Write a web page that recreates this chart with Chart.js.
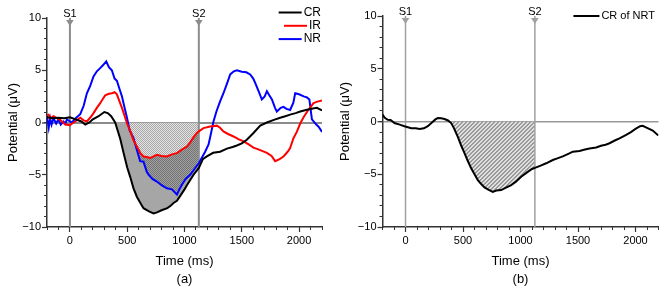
<!DOCTYPE html>
<html><head><meta charset="utf-8">
<script src="https://cdn.jsdelivr.net/npm/chart.js@4.4.1/dist/chart.umd.min.js"></script>
<style>
html,body{margin:0;padding:0;background:#fff;}
#wrap{position:relative;width:665px;height:289px;overflow:hidden;background:#fff;}
canvas{position:absolute;top:0;}
#ca{left:0;} #cb{left:332px;}
</style></head><body>
<div id="wrap"><canvas id="ca" width="332" height="289"></canvas><canvas id="cb" width="333" height="289"></canvas></div>
<script>
// ---------- data (time in ms, potential in µV) ----------
const crTime  = [-200,-150,-100,-50,0,50,100,134,170,200,250,300,330,360,395,440,468,500,526,555,584,620,642,690,730,760,800,850,876,904,934,970,1000,1021,1050,1079,1125,1160,1195,1250,1311,1370,1420,1457,1500,1544,1602,1661,1719,1780,1835,1880,1922,1970,2010,2060,2097,2155,2200];
const crValue = [0.5,0.4,0.45,0.4,0.5,0.3,0.1,-0.2,0.0,0.3,0.6,1.0,0.9,0.6,0.0,-1.6,-2.9,-4.3,-5.2,-6.3,-7.1,-7.8,-8.2,-8.5,-8.7,-8.6,-8.4,-8.2,-8.0,-7.7,-7.5,-6.9,-6.4,-6.0,-5.5,-5.0,-4.35,-3.5,-3.25,-2.9,-2.8,-2.5,-2.35,-2.2,-2.0,-1.65,-1.0,-0.3,0.0,0.25,0.45,0.6,0.75,0.9,1.05,1.2,1.3,1.4,1.15];

const irTime  = [-200,-186,-170,-143,-110,-85,-60,-41,0,20,46,70,90,120,148,180,206,235,264,290,308,340,366,390,410,430,454,475,497,526,555,584,613,642,670,701,730,759,800,846,890,934,977,1021,1050,1080,1108,1125,1166,1224,1283,1310,1340,1380,1428,1470,1515,1560,1602,1650,1719,1760,1791,1830,1864,1900,1922,1951,1980,2010,2039,2080,2126,2160,2200];
const irValue = [0.7,0.75,0.4,0.6,0.4,0.25,0.0,-0.2,-0.25,-0.1,0.1,0.3,0.45,0.2,0.1,0.5,0.9,1.4,1.85,2.3,2.6,2.75,2.8,2.9,2.7,2.1,1.4,0.7,-0.05,-0.8,-1.7,-2.3,-2.9,-3.25,-3.3,-3.4,-3.25,-3.1,-3.2,-3.25,-3.05,-2.93,-2.6,-2.3,-1.9,-1.4,-1.0,-0.85,-0.54,-0.38,-0.3,-0.5,-0.86,-1.1,-1.34,-1.6,-1.8,-2.1,-2.4,-2.6,-2.9,-3.2,-3.7,-3.5,-3.25,-2.8,-2.45,-1.5,-0.9,-0.1,0.5,1.2,1.85,2.0,2.1];

const nrTime  = [-200,-185,-172,-160,-143,-120,-100,-80,-56,-40,-26,0,17,50,90,120,148,177,206,235,264,290,317,340,366,390,410,430,454,475,497,520,555,584,613,642,670,686,720,759,800,846,890,934,955,977,1010,1050,1090,1125,1150,1180,1210,1230,1253,1280,1310,1340,1370,1399,1430,1457,1500,1540,1573,1600,1617,1650,1675,1700,1719,1740,1763,1790,1806,1840,1864,1890,1922,1950,1966,2000,2040,2068,2090,2112,2150,2170,2200];
const nrValue = [0.6,-0.5,0.4,-0.2,0.4,-0.1,0.3,-0.2,0.1,-0.1,0.3,0.1,0.0,0.4,0.8,1.6,2.8,3.5,4.4,4.9,5.2,5.5,5.85,5.3,5.0,4.2,4.0,3.3,2.5,1.5,0.5,-0.7,-1.5,-2.6,-3.7,-3.75,-4.7,-5.0,-5.4,-5.65,-6.0,-6.3,-6.4,-6.9,-6.4,-5.95,-5.4,-5.0,-4.4,-3.9,-3.4,-2.8,-2.1,-1.1,0.1,1.1,2.0,2.8,3.7,4.6,4.9,5.0,4.85,4.8,4.6,4.2,3.8,2.9,2.2,2.5,3.0,2.6,2.2,1.4,1.05,1.4,1.5,1.3,1.2,1.9,2.8,2.7,2.5,2.4,2.2,0.3,-0.2,-0.4,-0.9];

const nrtTime  = [-200,-180,-154,-130,-96,-50,-9,50,90,122,160,194,230,260,281,310,339,370,397,420,455,485,513,540,571,600,629,660,687,720,759,790,832,870,919,960,1006,1060,1100,1125,1170,1223,1281,1320,1368,1420,1455,1513,1560,1600,1658,1700,1740,1774,1820,1861,1919,1960,2000,2040,2063,2100,2150,2193,2200];
const nrtValue = [0.65,0.35,0.16,0.15,-0.15,-0.3,-0.45,-0.63,-0.65,-0.72,-0.65,-0.45,-0.1,0.2,0.32,0.3,0.23,0.1,-0.15,-0.6,-1.45,-2.3,-3.0,-3.7,-4.44,-5.0,-5.55,-5.95,-6.25,-6.45,-6.67,-6.55,-6.5,-6.3,-6.03,-5.7,-5.24,-4.8,-4.5,-4.4,-4.2,-3.96,-3.65,-3.5,-3.3,-3.05,-2.86,-2.8,-2.65,-2.55,-2.47,-2.3,-2.2,-2.06,-1.8,-1.6,-1.27,-1.0,-0.7,-0.45,-0.41,-0.6,-0.86,-1.27,-1.3];

const stimulusTimes  = [0, 1125];
const stimulusLabels = ['S1', 'S2'];
const shadeWindow    = [395, 1125];
const xRange = [-200, 2200];
const yRange = [-10, 10];
const xMajorTicks = [0, 500, 1000, 1500, 2000];
const xMinorTicks = [-200,-100,0,100,200,300,400,500,600,700,800,900,1000,1100,1200,1300,1400,1500,1600,1700,1800,1900,2000,2100,2200];
const yMajorTicks = [-10, -5, 0, 5, 10];
const yMinorTicks = [-10,-9,-8,-7,-6,-5,-4,-3,-2,-1,0,1,2,3,4,5,6,7,8,9,10];
const seriesNames = ['CR', 'IR', 'NR', 'CR of NRT'];

// ---------- helpers ----------
const F = "'Liberation Sans', Arial, sans-serif";
function pts(t, v) { return t.map((x, i) => ({x: x, y: v[i]})); }
function win(t, v) { return pts(t, v).filter(p => p.x >= shadeWindow[0] && p.x <= shadeWindow[1]); }
function setTicks(list) { return s => { s.ticks = list.map(v => ({value: v})); }; }

function checker(ctx, c1, c2) {
  const cv = document.createElement('canvas'); cv.width = 2; cv.height = 2;
  const g = cv.getContext('2d');
  g.fillStyle = c1; g.fillRect(0, 0, 2, 2);
  g.fillStyle = c2; g.fillRect(0, 0, 1, 1); g.fillRect(1, 1, 1, 1);
  return ctx.createPattern(cv, 'repeat');
}
function hatch(ctx, bg, fg) {
  const cv = document.createElement('canvas'); cv.width = 4; cv.height = 4;
  const g = cv.getContext('2d');
  g.fillStyle = bg; g.fillRect(0, 0, 4, 4);
  g.fillStyle = fg;
  for (let i = 0; i < 4; i++) { g.fillRect(i, 3 - i, 1, 1); g.fillRect(i, (4 - i) % 4, 1, 1); }
  return ctx.createPattern(cv, 'repeat');
}

function lineDs(label, data, color, order) {
  return {label, data, borderColor: color, backgroundColor: color, borderWidth: 2, pointRadius: 0,
          tension: 0, fill: false, order, inLegend: true, xAxisID: 'x', yAxisID: 'y'};
}
function fillDs(data, pattern, order) {
  return {label: '', data, borderWidth: 0, borderColor: 'rgba(0,0,0,0)', pointRadius: 0, tension: 0,
          backgroundColor: pattern, order, xAxisID: 'x', yAxisID: 'y',
          fill: {target: {value: 0}, above: 'rgba(0,0,0,0)', below: pattern}};
}
function stimDs(color, width) {
  return stimulusTimes.map(t => ({label: '', data: [{x: t, y: yRange[0]}, {x: t, y: yRange[1]}],
    borderColor: color, borderWidth: width, pointRadius: 0, fill: false, order: 5, xAxisID: 'x', yAxisID: 'y'}));
}

function marks(cfg) {
  return {
    id: 'marks',
    afterDatasetsDraw(chart) {
      const ctx = chart.ctx, xs = chart.scales.x, top = chart.chartArea.top;
      stimulusTimes.forEach((t, i) => {
        const px = xs.getPixelForValue(t);
        ctx.save();
        ctx.fillStyle = cfg.sColor;
        ctx.beginPath();
        ctx.moveTo(px - 3.8, top + 2); ctx.lineTo(px + 3.8, top + 2); ctx.lineTo(px, top + 8);
        ctx.closePath(); ctx.fill();
        ctx.fillStyle = '#000'; ctx.font = '11px ' + F;
        ctx.textAlign = 'center'; ctx.textBaseline = 'alphabetic';
        ctx.fillText(stimulusLabels[i], px, top - 1);
        ctx.restore();
      });
    },
    afterDraw(chart) {
      const ctx = chart.ctx, L = cfg.legend;
      const items = chart.data.datasets.filter(d => d.inLegend);
      ctx.save();
      ctx.font = L.size + 'px ' + F; ctx.textBaseline = 'middle'; ctx.textAlign = 'left';
      items.forEach((d, i) => {
        const y = L.y + i * L.dy;
        const w = ctx.measureText(d.label).width;
        const tx = L.right - w;
        ctx.fillStyle = '#000'; ctx.fillText(d.label, tx, y);
        ctx.strokeStyle = d.borderColor; ctx.lineWidth = 2;
        ctx.beginPath(); ctx.moveTo(tx - L.gap - L.len, y); ctx.lineTo(tx - L.gap, y); ctx.stroke();
      });
      ctx.restore();
    }
  };
}

function scales(sub, yWidth, zeroColor, zeroWidth) {
  return {
    x: {type: 'linear', position: 'bottom', weight: 1, min: xRange[0], max: xRange[1],
      afterBuildTicks: setTicks(xMajorTicks),
      ticks: {color: '#000', font: {family: F, size: 11}, padding: 2, maxRotation: 0, autoSkip: false,
        callback: v => String(v)},
      grid: {display: true, drawOnChartArea: false, drawTicks: true, tickLength: 5, tickColor: '#333', tickWidth: 1.2},
      border: {display: true, color: '#333', width: 1.5},
      title: {display: true, text: ['Time (ms)', sub], color: '#000', font: {family: F, size: 13, lineHeight: 1.4}, padding: {top: 0, bottom: 0}},
      afterFit: s => { s.height = 62; }},
    xm: {type: 'linear', position: 'bottom', weight: 0, min: xRange[0], max: xRange[1],
      afterBuildTicks: setTicks(xMinorTicks),
      ticks: {display: false, autoSkip: false},
      grid: {display: true, drawOnChartArea: false, drawTicks: true, tickLength: 3, tickColor: '#333', tickWidth: 1},
      border: {display: false},
      afterFit: s => { s.height = 0; }},
    y: {type: 'linear', position: 'left', weight: 1, min: yRange[0], max: yRange[1],
      afterBuildTicks: setTicks(yMajorTicks),
      ticks: {color: '#000', font: {family: F, size: 11}, padding: 1, autoSkip: false,
        callback: v => v < 0 ? '\u2212' + Math.abs(v) : String(v)},
      grid: {display: true, drawOnChartArea: true, drawTicks: true, tickLength: 5, tickColor: '#333', tickWidth: 1.2,
        color: c => (c.tick && c.tick.value === 0) ? zeroColor : 'rgba(0,0,0,0)',
        lineWidth: c => (c.tick && c.tick.value === 0) ? zeroWidth : 1},
      border: {display: true, color: '#333', width: 1.5},
      title: {display: true, text: 'Potential (\u03bcV)', color: '#000', font: {family: F, size: 13, lineHeight: 1.2}, padding: {top: 6, bottom: 0}},
      afterFit: s => { s.width = yWidth; }},
    ym: {type: 'linear', position: 'left', weight: 0, min: yRange[0], max: yRange[1],
      afterBuildTicks: setTicks(yMinorTicks),
      ticks: {display: false, autoSkip: false},
      grid: {display: true, drawOnChartArea: false, drawTicks: true, tickLength: 3, tickColor: '#333', tickWidth: 1},
      border: {display: false},
      afterFit: s => { s.width = 0; }}
  };
}

function baseOptions(sc, pad) {
  return {responsive: false, animation: false, devicePixelRatio: 1, events: [],
    layout: {padding: pad},
    plugins: {legend: {display: false}, tooltip: {enabled: false}},
    scales: sc};
}

// ---------- chart (a) ----------
const ca = document.getElementById('ca');
const cctxA = ca.getContext('2d');
const solidCR = '#a6a6a6';
const darkChk = checker(cctxA, '#a2a2a2', '#727272');
const lightChk = checker(cctxA, '#e4e4e4', '#a8a8a8');
new Chart(ca, {
  type: 'line',
  data: {datasets: [
    lineDs(seriesNames[0], pts(crTime, crValue), '#000000', 1),
    lineDs(seriesNames[1], pts(irTime, irValue), '#ff0000', 2),
    lineDs(seriesNames[2], pts(nrTime, nrValue), '#0000ff', 3),
    fillDs(win(crTime, crValue), solidCR, 10),
    fillDs(win(nrTime, nrValue), darkChk, 9),
    fillDs(win(irTime, irValue), lightChk, 8),
    ...stimDs('#8c8c8c', 2)
  ]},
  options: baseOptions(scales('(a)', 47, '#8c8c8c', 2), {top: 18, right: 10, left: 0, bottom: 0}),
  plugins: [marks({sColor: '#8c8c8c', legend: {y: 12.5, dy: 13.3, right: 321, len: 23, gap: 2, size: 12}})]
});

// ---------- chart (b) ----------
const cb = document.getElementById('cb');
const cctxB = cb.getContext('2d');
const hatchP = hatch(cctxB, '#e0e0e0', '#9a9a9a');
new Chart(cb, {
  type: 'line',
  data: {datasets: [
    lineDs(seriesNames[3], pts(nrtTime, nrtValue), '#000000', 1),
    fillDs(win(nrtTime, nrtValue), hatchP, 10),
    ...stimDs('#a0a0a0', 1.5)
  ]},
  options: baseOptions(scales('(b)', 50.5, '#999999', 1.5), {top: 16, right: 6.5, left: 0, bottom: 0}),
  plugins: [marks({sColor: '#a0a0a0', legend: {y: 16, dy: 13.3, right: 323, len: 26, gap: 2, size: 11}})]
});
</script>
</body></html>
